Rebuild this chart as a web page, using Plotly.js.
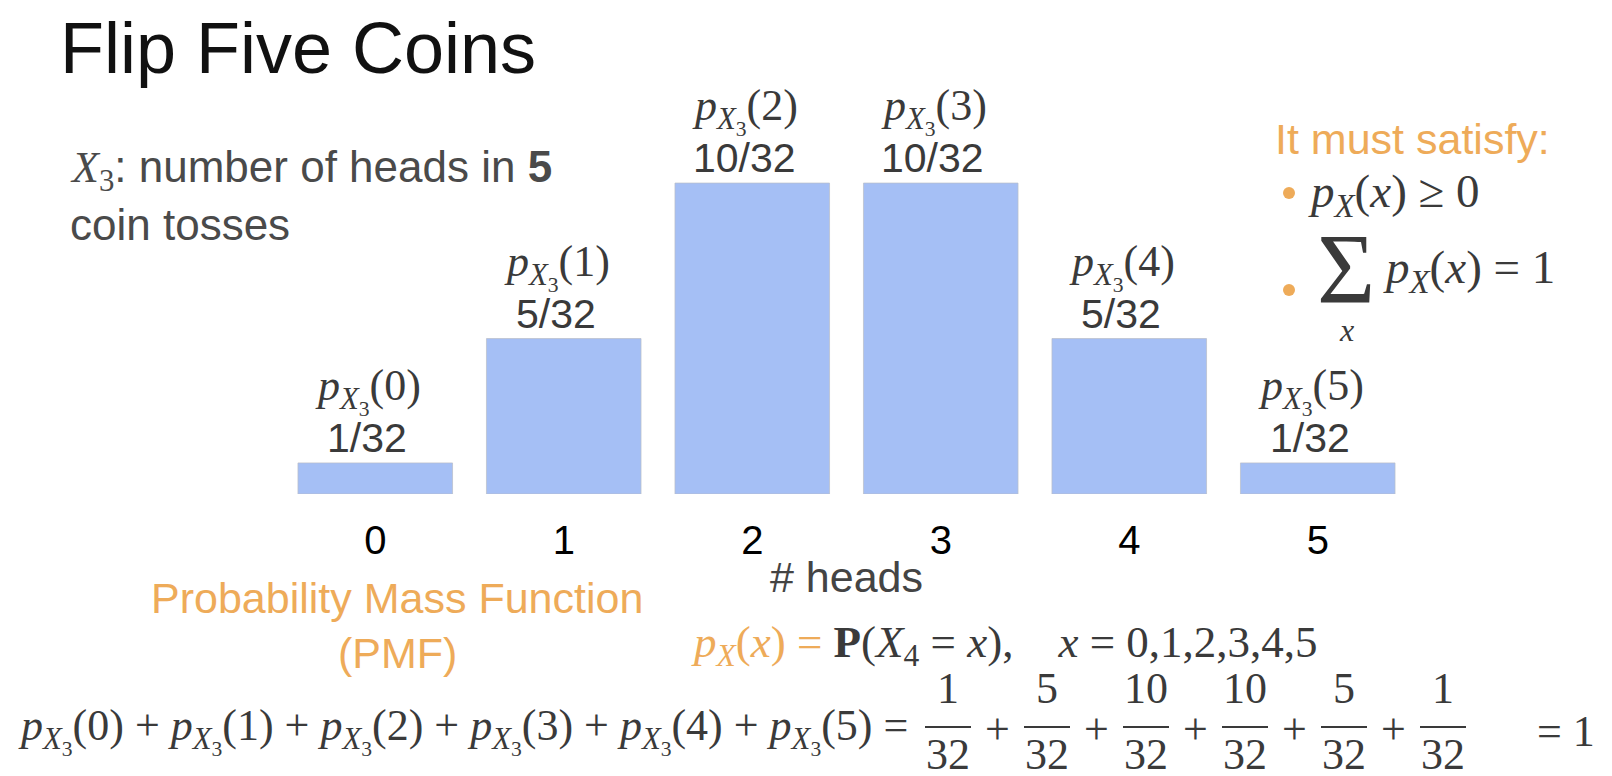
<!DOCTYPE html>
<html><head><meta charset="utf-8">
<script src="https://cdn.plot.ly/plotly-3.0.1.min.js"></script>
<style>html,body{margin:0;padding:0;background:#fff}#chart{width:1612px;height:776px}</style>
</head><body><div id="chart"></div>
<script>
// ---- data ----
const heads = [0, 1, 2, 3, 4, 5];
const tickLabels = ['0', '1', '2', '3', '4', '5'];
const numerators = [1, 5, 10, 10, 5, 1];
const denominator = 32;
const probabilities = [0.03125, 0.15625, 0.3125, 0.3125, 0.15625, 0.03125];
const fractionLabels = ['1/32', '5/32', '10/32', '10/32', '5/32', '1/32'];

// ---- layout helpers (pixel -> paper) ----
const L = 281, R = 1412, T = 96, B = 494;
const W = R - L, H = B - T;
const px = x => (x - L) / W;
const py = y => (B - y) / H;

const SANS = 'Liberation Sans, Arial, sans-serif';
const SERIF = 'Liberation Serif, Times New Roman, serif';
const ORANGE = '#eeab59';
const DARK = '#3a3a3a';
const NB = '\u00a0';

const pX3 = k => '<i>p</i><sub><i>X</i><sub>3</sub></sub>(' + k + ')';

const ann = [];
function txt(text, x, y, size, opts) {
  opts = opts || {};
  ann.push(Object.assign({
    text: text, xref: 'paper', yref: 'paper', x: px(x), y: py(y),
    xanchor: opts.xanchor || 'left', yanchor: 'middle', showarrow: false,
    font: { family: opts.family || SANS, size: size, color: opts.color || DARK }
  }, opts.extra || {}));
}

// title and description
txt('Flip Five Coins', 58, 48, 72, { color: '#111' });
txt('<span style="font-family:Liberation Serif"><i>X</i><sub>3</sub></span>: number of heads in <b>5</b>', 68, 170, 44, { color: '#4a4a4a' });
txt('coin tosses', 68, 224, 44, { color: '#4a4a4a' });

// labels above bars (anchored to data)
heads.forEach((k, i) => {
  ann.push({
    text: pX3(k), xref: 'x', yref: 'y', x: k, y: probabilities[i],
    xanchor: 'center', yanchor: 'middle', yshift: 72, xshift: -7, showarrow: false,
    font: { family: SERIF, size: 44, color: DARK }
  });
  ann.push({
    text: fractionLabels[i], xref: 'x', yref: 'y', x: k, y: probabilities[i],
    xanchor: 'center', yanchor: 'middle', yshift: 25, xshift: -8, showarrow: false,
    font: { family: SANS, size: 41, color: DARK }
  });
});

// PMF caption
txt('Probability Mass Function', 397, 598, 43, { color: ORANGE, xanchor: 'center' });
txt('(PMF)', 397, 653, 43, { color: ORANGE, xanchor: 'center' });

// definition formula
txt('<span style="color:' + ORANGE + '"><i>p</i><sub><i>X</i></sub>(<i>x</i>) =</span> <b>P</b>(<i>X</i><sub>4</sub> = <i>x</i>),' + NB + NB + NB + ' <i>x</i> = ' + tickLabels.join(','),
    689, 645, 45, { family: SERIF });

// conditions box
txt('It must satisfy:', 1273, 139, 43, { color: ORANGE });
txt('<i>p</i><sub><i>X</i></sub>(<i>x</i>) ≥ 0', 1306, 194, 47, { family: SERIF });
txt('Σ', 1346, 268, 100, { family: SERIF, xanchor: 'center' });
txt('<i>x</i>', 1346, 330, 32, { family: SERIF, xanchor: 'center' });
txt('<i>p</i><sub><i>X</i></sub>(<i>x</i>) = 1', 1381, 270, 47, { family: SERIF });

// bottom sum equation
txt(heads.map(pX3).join(' + ') + ' =', 16, 731, 44, { family: SERIF });
const shapes = [];
const fracStart = 948, fracStep = 99;
numerators.forEach((n, i) => {
  const cx = fracStart + i * fracStep;
  txt(String(n), cx, 688, 44, { family: SERIF, xanchor: 'center' });
  txt(String(denominator), cx, 754, 44, { family: SERIF, xanchor: 'center' });
  shapes.push({ type: 'line', xref: 'paper', yref: 'paper', x0: px(cx - 23), x1: px(cx + 23), y0: py(727), y1: py(727), line: { color: DARK, width: 2 } });
  if (i < numerators.length - 1) txt('+', cx + fracStep / 2, 729, 44, { family: SERIF, xanchor: 'center' });
});
txt('= 1', 1535, 731, 44, { family: SERIF });

// bullets
[[1289, 193], [1289, 290]].forEach(([cx, cy]) => {
  shapes.push({ type: 'circle', xref: 'paper', yref: 'paper', x0: px(cx - 6), x1: px(cx + 6), y0: py(cy + 6), y1: py(cy - 6), fillcolor: ORANGE, line: { width: 0 } });
});

const trace = {
  type: 'bar', x: heads, y: probabilities,
  marker: { color: '#a5bff5', line: { color: 'rgba(185,190,200,0.7)', width: 1 } },
  hoverinfo: 'none', cliponaxis: false
};

const layout = {
  width: 1612, height: 776,
  margin: { l: L, r: 1612 - R, t: T, b: 776 - B, pad: 0 },
  paper_bgcolor: '#fff', plot_bgcolor: '#fff',
  bargap: 0.18, showlegend: false,
  xaxis: {
    range: [-0.5, 5.5], tickmode: 'array', tickvals: heads, ticktext: tickLabels,
    tickfont: { family: SANS, size: 40, color: '#000' },
    ticks: 'outside', ticklen: 11, tickcolor: 'rgba(0,0,0,0)',
    showgrid: false, zeroline: false, showline: false, automargin: false, fixedrange: true,
    title: { text: '# heads', font: { family: SANS, size: 43, color: '#444' }, standoff: 0 }
  },
  yaxis: { range: [0, 0.4], visible: false, fixedrange: true },
  annotations: ann, shapes: shapes
};

Plotly.newPlot('chart', [trace], layout, { displayModeBar: false, staticPlot: true });
</script></body></html>
